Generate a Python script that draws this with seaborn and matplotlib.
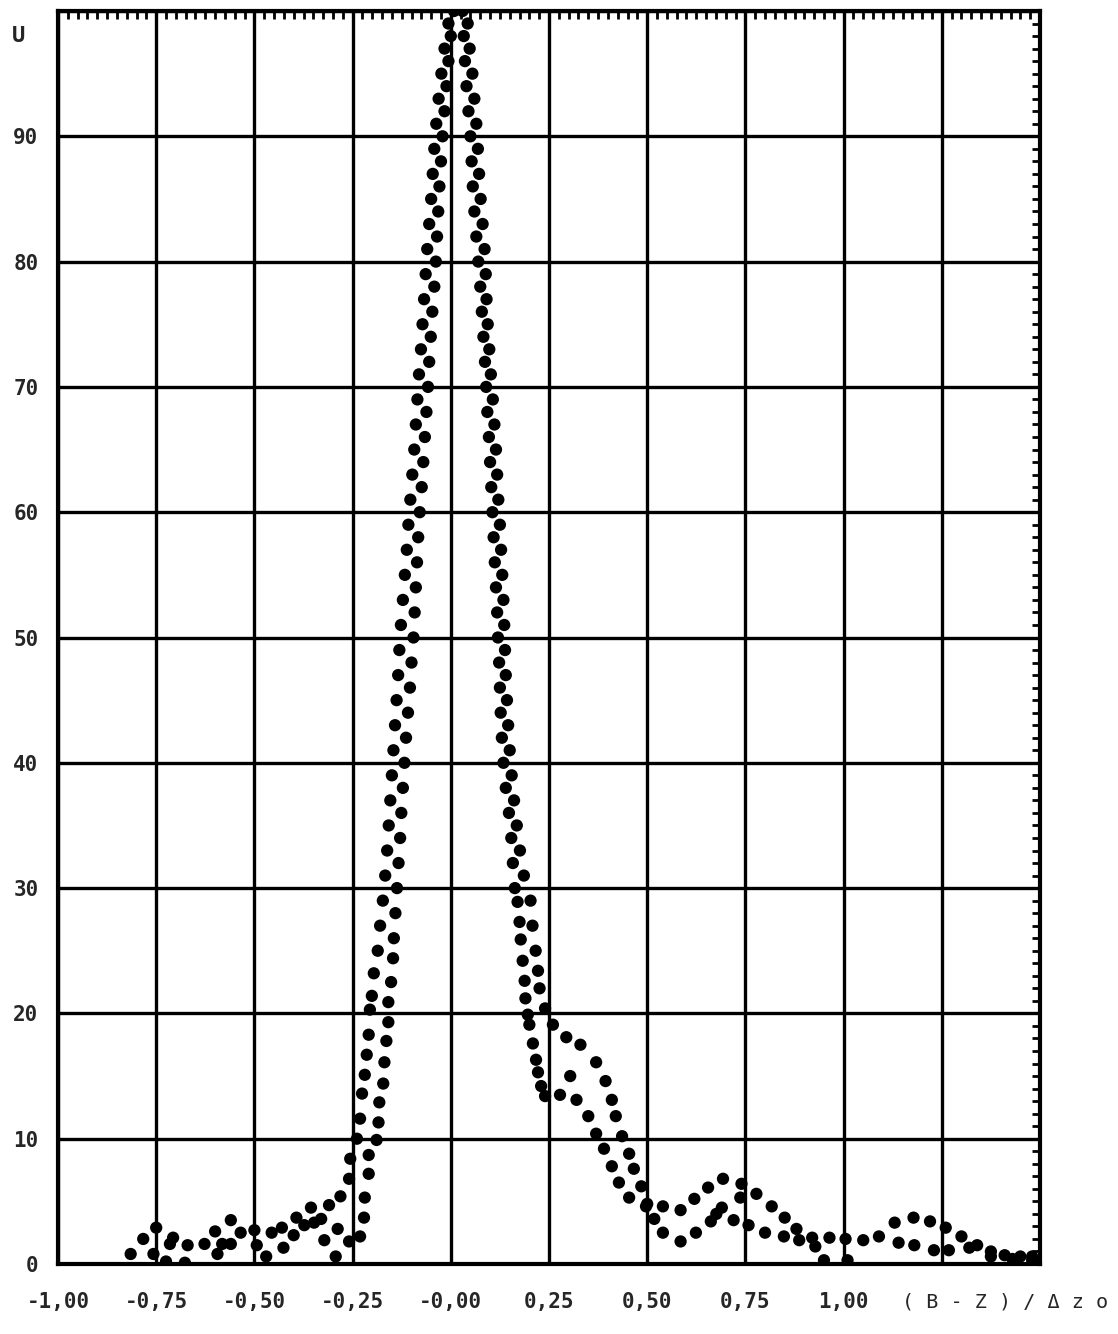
import numpy as np
import pandas as pd
import matplotlib
matplotlib.use('Agg')
import matplotlib.pyplot as plt
import matplotlib.transforms as mtransforms
from matplotlib.ticker import MultipleLocator
import seaborn as sns

# ---- values: (x, U) ----
# curve 1: outer curve, higher side lobes
s1_left_tail = [(-0.815, 0.8), (-0.783, 2.0), (-0.75, 2.9), (-0.707, 2.1), (-0.67, 1.5),
                (-0.627, 1.6), (-0.60, 2.6), (-0.56, 3.5), (-0.535, 2.5), (-0.50, 2.7),
                (-0.456, 2.5), (-0.43, 2.9), (-0.393, 3.7), (-0.356, 4.5), (-0.31, 4.7)]
s1_left_rise = [(-0.281, 5.4), (-0.259, 6.8), (-0.256, 8.4), (-0.239, 10.0), (-0.231, 11.6),
                (-0.226, 13.6), (-0.219, 15.1), (-0.214, 16.7), (-0.209, 18.3), (-0.206, 20.3),
                (-0.201, 21.4), (-0.196, 23.2)]
s1_left_branch = [(-0.186, 25), (-0.18, 27), (-0.173, 29), (-0.167, 31), (-0.162, 33),
                  (-0.158, 35), (-0.154, 37), (-0.15, 39), (-0.146, 41), (-0.142, 43),
                  (-0.138, 45), (-0.134, 47), (-0.131, 49), (-0.127, 51), (-0.122, 53),
                  (-0.117, 55), (-0.112, 57), (-0.108, 59), (-0.103, 61), (-0.098, 63),
                  (-0.093, 65), (-0.089, 67), (-0.085, 69), (-0.081, 71), (-0.076, 73),
                  (-0.072, 75), (-0.068, 77), (-0.064, 79), (-0.06, 81), (-0.055, 83),
                  (-0.05, 85), (-0.046, 87), (-0.042, 89), (-0.037, 91), (-0.031, 93),
                  (-0.024, 95), (-0.016, 97), (-0.006, 99)]
s1_right_branch = [(0.043, 99), (0.048, 97), (0.055, 95), (0.06, 93), (0.065, 91),
                   (0.069, 89), (0.072, 87), (0.076, 85), (0.081, 83), (0.086, 81),
                   (0.089, 79), (0.091, 77), (0.094, 75), (0.098, 73), (0.102, 71),
                   (0.107, 69), (0.111, 67), (0.115, 65), (0.118, 63), (0.121, 61),
                   (0.125, 59), (0.128, 57), (0.131, 55), (0.134, 53), (0.136, 51),
                   (0.138, 49), (0.14, 47), (0.143, 45), (0.146, 43), (0.15, 41),
                   (0.155, 39), (0.161, 37), (0.168, 35), (0.176, 33), (0.186, 31),
                   (0.203, 29), (0.208, 27), (0.216, 25), (0.222, 23.4), (0.226, 22.0)]
s1_right_tail = [(0.24, 20.4), (0.26, 19.1), (0.294, 18.1), (0.33, 17.5), (0.37, 16.1),
                 (0.394, 14.6), (0.41, 13.1), (0.42, 11.8), (0.436, 10.2), (0.454, 8.8),
                 (0.466, 7.6), (0.485, 6.2), (0.50, 4.8), (0.54, 4.6), (0.585, 4.3),
                 (0.62, 5.2), (0.655, 6.1), (0.693, 6.8), (0.74, 6.4), (0.778, 5.6),
                 (0.817, 4.6), (0.85, 3.7), (0.88, 2.8), (0.92, 2.1), (0.964, 2.1),
                 (1.005, 2.0), (1.05, 1.9), (1.09, 2.2), (1.13, 3.3), (1.178, 3.7),
                 (1.22, 3.4), (1.26, 2.9), (1.30, 2.2), (1.34, 1.5), (1.375, 1.0),
                 (1.41, 0.7), (1.45, 0.6), (1.48, 0.6)]

# curve 2: inner curve, lower side lobes
s2_left_tail = [(-0.757, 0.8), (-0.725, 0.2), (-0.715, 1.6), (-0.677, 0.1), (-0.594, 0.8),
                (-0.582, 1.6), (-0.56, 1.6), (-0.494, 1.5), (-0.47, 0.6), (-0.426, 1.3),
                (-0.40, 2.3), (-0.373, 3.1), (-0.348, 3.3), (-0.33, 3.6), (-0.322, 1.9),
                (-0.293, 0.6), (-0.288, 2.8)]
s2_left_rise = [(-0.259, 1.8), (-0.231, 2.2), (-0.221, 3.7), (-0.219, 5.3), (-0.209, 7.2),
                (-0.209, 8.7), (-0.189, 9.9), (-0.184, 11.3), (-0.182, 12.9), (-0.172, 14.4),
                (-0.169, 16.1), (-0.164, 17.8), (-0.159, 19.3), (-0.159, 20.9), (-0.152, 22.5),
                (-0.147, 24.4)]
s2_left_branch = [(-0.145, 26), (-0.141, 28), (-0.137, 30), (-0.133, 32), (-0.129, 34),
                  (-0.126, 36), (-0.122, 38), (-0.118, 40), (-0.114, 42), (-0.109, 44),
                  (-0.104, 46), (-0.10, 48), (-0.095, 50), (-0.092, 52), (-0.089, 54),
                  (-0.086, 56), (-0.083, 58), (-0.079, 60), (-0.074, 62), (-0.07, 64),
                  (-0.066, 66), (-0.062, 68), (-0.058, 70), (-0.055, 72), (-0.051, 74),
                  (-0.047, 76), (-0.042, 78), (-0.038, 80), (-0.035, 82), (-0.032, 84),
                  (-0.029, 86), (-0.025, 88), (-0.021, 90), (-0.016, 92), (-0.011, 94),
                  (-0.006, 96), (0.0, 98), (0.008, 100)]
s2_right_branch = [(0.03, 100), (0.033, 98), (0.036, 96), (0.04, 94), (0.045, 92),
                   (0.05, 90), (0.053, 88), (0.056, 86), (0.06, 84), (0.065, 82),
                   (0.07, 80), (0.075, 78), (0.079, 76), (0.083, 74), (0.087, 72),
                   (0.09, 70), (0.093, 68), (0.097, 66), (0.10, 64), (0.103, 62),
                   (0.106, 60), (0.109, 58), (0.112, 56), (0.115, 54), (0.118, 52),
                   (0.12, 50), (0.123, 48), (0.125, 46), (0.127, 44), (0.13, 42),
                   (0.134, 40), (0.14, 38), (0.148, 36), (0.154, 34), (0.158, 32),
                   (0.163, 30)]
s2_right_tail = [(0.17, 28.9), (0.175, 27.3), (0.178, 25.9), (0.183, 24.2), (0.188, 22.6),
                 (0.19, 21.2), (0.196, 19.9), (0.20, 19.1), (0.209, 17.6), (0.217, 16.3),
                 (0.222, 15.3), (0.23, 14.2), (0.24, 13.4), (0.278, 13.5), (0.304, 15.0),
                 (0.32, 13.1), (0.35, 11.8), (0.37, 10.4), (0.39, 9.2), (0.41, 7.8),
                 (0.428, 6.5), (0.454, 5.3), (0.497, 4.6), (0.518, 3.6), (0.54, 2.5),
                 (0.585, 1.8), (0.624, 2.5), (0.662, 3.4), (0.676, 4.0), (0.69, 4.5),
                 (0.72, 3.5), (0.737, 5.3), (0.758, 3.1), (0.80, 2.5), (0.848, 2.2),
                 (0.887, 1.9), (0.928, 1.4), (0.95, 0.3), (1.01, 0.3), (1.14, 1.7),
                 (1.18, 1.5), (1.23, 1.1), (1.268, 1.1), (1.32, 1.3), (1.375, 0.6),
                 (1.43, 0.4), (1.48, 0.3)]

x_ticks = [-1.0, -0.75, -0.5, -0.25, 0.0, 0.25, 0.5, 0.75, 1.0, 1.25, 1.5]
x_tick_labels = ['-1,00', '-0,75', '-0,50', '-0,25', '-0,00', '0,25', '0,50', '0,75', '1,00', '', '']
y_ticks = [0, 10, 20, 30, 40, 50, 60, 70, 80, 90, 100]
y_tick_labels = ['0', '10', '20', '30', '40', '50', '60', '70', '80', '90', '']
x_name = '( B - Z ) / Δ z o'
y_name = 'U'


def to_frame(name, *parts):
    pts = [p for part in parts for p in part]
    df = pd.DataFrame(pts, columns=['x', 'y'])
    df['curve'] = name
    return df


data = pd.concat([
    to_frame('1', s1_left_tail, s1_left_rise, s1_left_branch, s1_right_branch, s1_right_tail),
    to_frame('2', s2_left_tail, s2_left_rise, s2_left_branch, s2_right_branch, s2_right_tail),
], ignore_index=True)

sns.set_style('white')
plt.rcParams['font.family'] = ['DejaVu Sans Mono', 'DejaVu Sans']

fig = plt.figure(figsize=(11.18, 13.34), dpi=100)
ax = fig.add_axes([58 / 1118, 1 - 1264 / 1334, (1040 - 58) / 1118, (1264 - 11) / 1334])

sns.scatterplot(data=data, x='x', y='y', hue='curve', palette=['black', 'black'],
                s=78, linewidth=0, legend=False, ax=ax, zorder=3, clip_on=True)

ax.set_xlim(-1.0, 1.5)
ax.set_ylim(0, 100)
ax.set_xticks(x_ticks)
ax.set_xticklabels(x_tick_labels, fontsize=15, fontweight='bold')
ax.set_yticks(y_ticks)
ax.set_yticklabels(y_tick_labels, fontsize=15, fontweight='bold')
ax.xaxis.set_minor_locator(MultipleLocator(0.025))
ax.yaxis.set_minor_locator(MultipleLocator(1))
ax.tick_params(which='both', direction='in', top=True, right=True, color='black')
ax.tick_params(which='major', length=7, width=2)
ax.tick_params(which='minor', length=6, width=2)
ax.tick_params(axis='x', which='major', pad=20)
ax.tick_params(axis='y', which='major', pad=14)
ax.grid(True, which='major', color='black', linewidth=2.4)
ax.set_axisbelow(True)
for sp in ax.spines.values():
    sp.set_visible(True)
    sp.set_color('black')
    sp.set_linewidth(3)
ax.set_xlabel('')
ax.set_ylabel('')

ytrans = mtransforms.blended_transform_factory(ax.transAxes, ax.transData)
ax.text(-0.04, 98, y_name, transform=ytrans, ha='center', va='center',
        fontsize=16, fontweight='bold')
xtrans = mtransforms.blended_transform_factory(ax.transData, ax.transAxes)
ax.text(1.41, -0.03, x_name, transform=xtrans, ha='center', va='center', fontsize=14.5)

fig.savefig('out.png', dpi=100, facecolor='white')
